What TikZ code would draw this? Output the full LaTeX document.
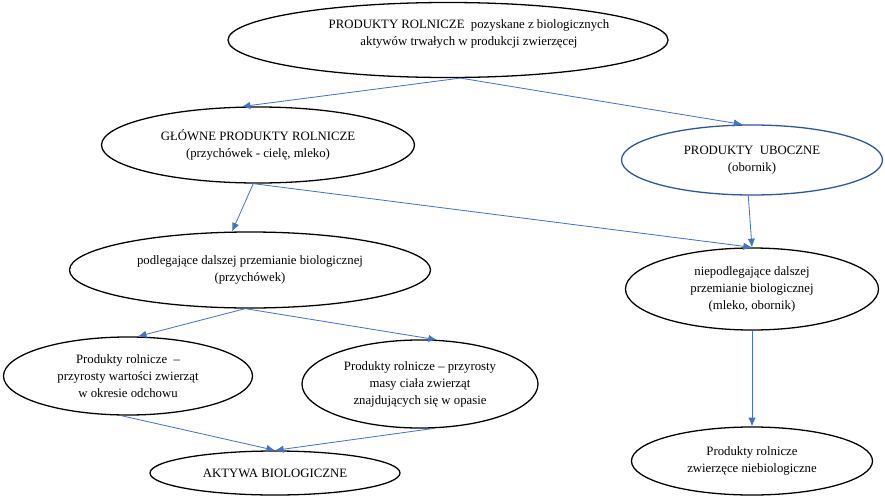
\documentclass[tikz,border=0pt]{standalone}
\usepackage{fontspec}
\setmainfont{Liberation Serif}
\usetikzlibrary{shapes.geometric,arrows.meta}
\definecolor{arrowblue}{RGB}{68,114,196}
\definecolor{ovalblue}{RGB}{47,85,151}

\begin{document}
\begin{tikzpicture}[x=0.03cm,y=-0.03cm,
  oval/.style={draw=black,ellipse,line width=1.1pt,align=center},
  arr/.style={draw=arrowblue,line width=0.7pt,-{Latex[length=2.6mm,width=2.2mm]}}]
\tikzstyle{every node}+=[inner sep=0pt,font=\fontsize{10.9}{14.5}\selectfont]
\useasboundingbox (0,0) rectangle (885,500);
\node [oval,minimum width=13.2cm,minimum height=2.25cm] (top) at (448,40) {};
\node [align=center] (toptext) at (469,34) {PRODUKTY ROLNICZE\ \ pozyskane z biologicznych\\aktywów trwałych w produkcji zwierzęcej};
\node [oval,minimum width=9.39cm,minimum height=2.28cm] (glowne) at (258,145) {GŁÓWNE PRODUKTY ROLNICZE\\(przychówek - cielę, mleko)};
\node [oval,draw=ovalblue,minimum width=7.83cm,minimum height=2.1cm] (uboczne) at (752,160) {PRODUKTY\ \ UBOCZNE\\(obornik)};
\node [oval,minimum width=10.83cm,minimum height=2.28cm] (podleg) at (250,270) {podlegające dalszej przemianie biologicznej\\(przychówek)};
\node [oval,minimum width=7.59cm,minimum height=2.46cm] (niepodleg) at (752,289) {niepodlegające dalszej\\przemianie biologicznej\\(mleko, obornik)};
\node [oval,minimum width=7.47cm,minimum height=2.34cm] (wartosci) at (128,376) {Produkty rolnicze\ \ –\\przyrosty wartości zwierząt\\w okresie odchowu};
\node [oval,minimum width=7.08cm,minimum height=2.64cm] (masy) at (420,384) {Produkty rolnicze – przyrosty\\masy ciała zwierząt\\znajdujących się w opasie};
\node [oval,minimum width=7.5cm,minimum height=1.32cm] (aktywa) at (275,473) {AKTYWA BIOLOGICZNE};
\node [oval,minimum width=7.23cm,minimum height=2.04cm] (niebio) at (752,461) {Produkty rolnicze\\zwierzęce niebiologiczne};
\draw [arr] (top.-72) -- (glowne.113);
\draw [arr] (top.-72) -- (uboczne.105);
\draw [arr] (glowne.-97) -- (podleg.115);
\draw [arr] (glowne.-97) -- (niepodleg.north);
\draw [arr] (uboczne.-96) -- (niepodleg.north);
\draw [arr] (podleg.-97) -- (wartosci.76);
\draw [arr] (podleg.-97) -- (masy.69);
\draw [arr] (wartosci.-100) -- (aktywa.north);
\draw [arr] (masy.-72) -- (aktywa.north);
\draw [arr] (niepodleg.south) -- (niebio.north);
\end{tikzpicture}
\end{document}
